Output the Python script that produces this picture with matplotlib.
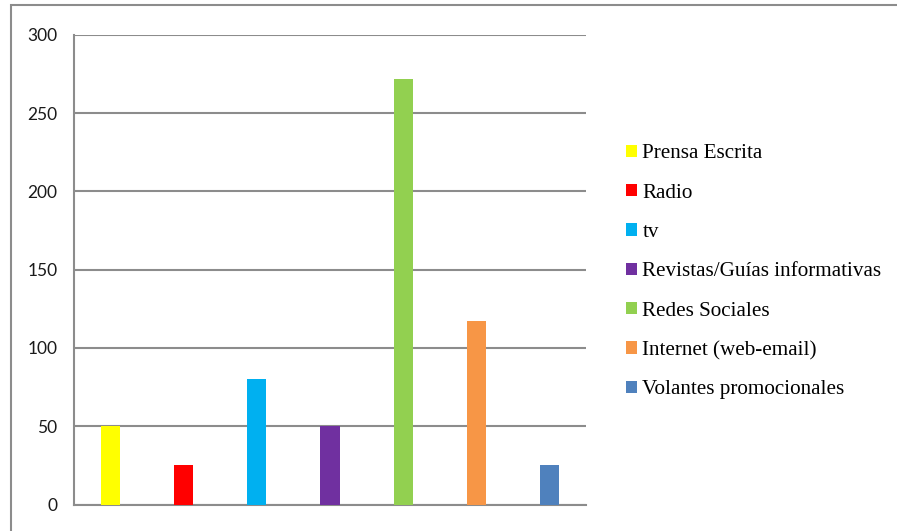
import matplotlib
matplotlib.use("Agg")
import matplotlib.pyplot as plt
from matplotlib.patches import Rectangle

categories = ["Prensa Escrita", "Radio", "tv", "Revistas/Guías informativas",
              "Redes Sociales", "Internet (web-email)", "Volantes promocionales"]
values = [50, 25, 80, 50, 272, 117, 25]
colors = ["#FFFF00", "#FF0000", "#00B0F0", "#7030A0", "#92D050", "#F79646", "#4F81BD"]
yticks = [0, 50, 100, 150, 200, 250, 300]

fig = plt.figure(figsize=(8.97, 5.31), dpi=100)
ax = fig.add_axes([74/897, 1-504.5/531, (586-74)/897, (504.5-35)/531])

for i, (c, v, col) in enumerate(zip(categories, values, colors)):
    ax.bar(i, v, width=0.26, color=col, label=c, zorder=3)

ax.set_xlim(-0.5, len(categories) - 0.5)
ax.set_ylim(0, 300)
ax.set_yticks(yticks)
ax.set_yticklabels([str(t) for t in yticks], fontfamily="Lato", fontsize=12.5, color="#1a1a1a")
ax.set_xticks([])
ax.tick_params(axis="y", length=0, pad=12)
ax.yaxis.grid(True, color="#8c8c8c", linewidth=1.5, zorder=0)
for s in ["top", "right"]:
    ax.spines[s].set_visible(False)
for s in ["left", "bottom"]:
    ax.spines[s].set_color("#8c8c8c")
    ax.spines[s].set_linewidth(1.5)

leg = ax.legend(loc="upper left", bbox_to_anchor=(618/897, 1-136/531),
                bbox_transform=fig.transFigure, frameon=False,
                prop={"family": "Liberation Serif", "size": 15.2},
                handlelength=0.52, handleheight=0.52, handletextpad=0.24,
                labelspacing=0.96, borderaxespad=0)

border = Rectangle((11/897, -0.1), 1.2, 1 - 5/531 + 0.1, transform=fig.transFigure,
                   fill=False, edgecolor="#8c8c8c", linewidth=1.5, clip_on=False)
fig.patches.append(border)

fig.savefig("out.png", dpi=100)
